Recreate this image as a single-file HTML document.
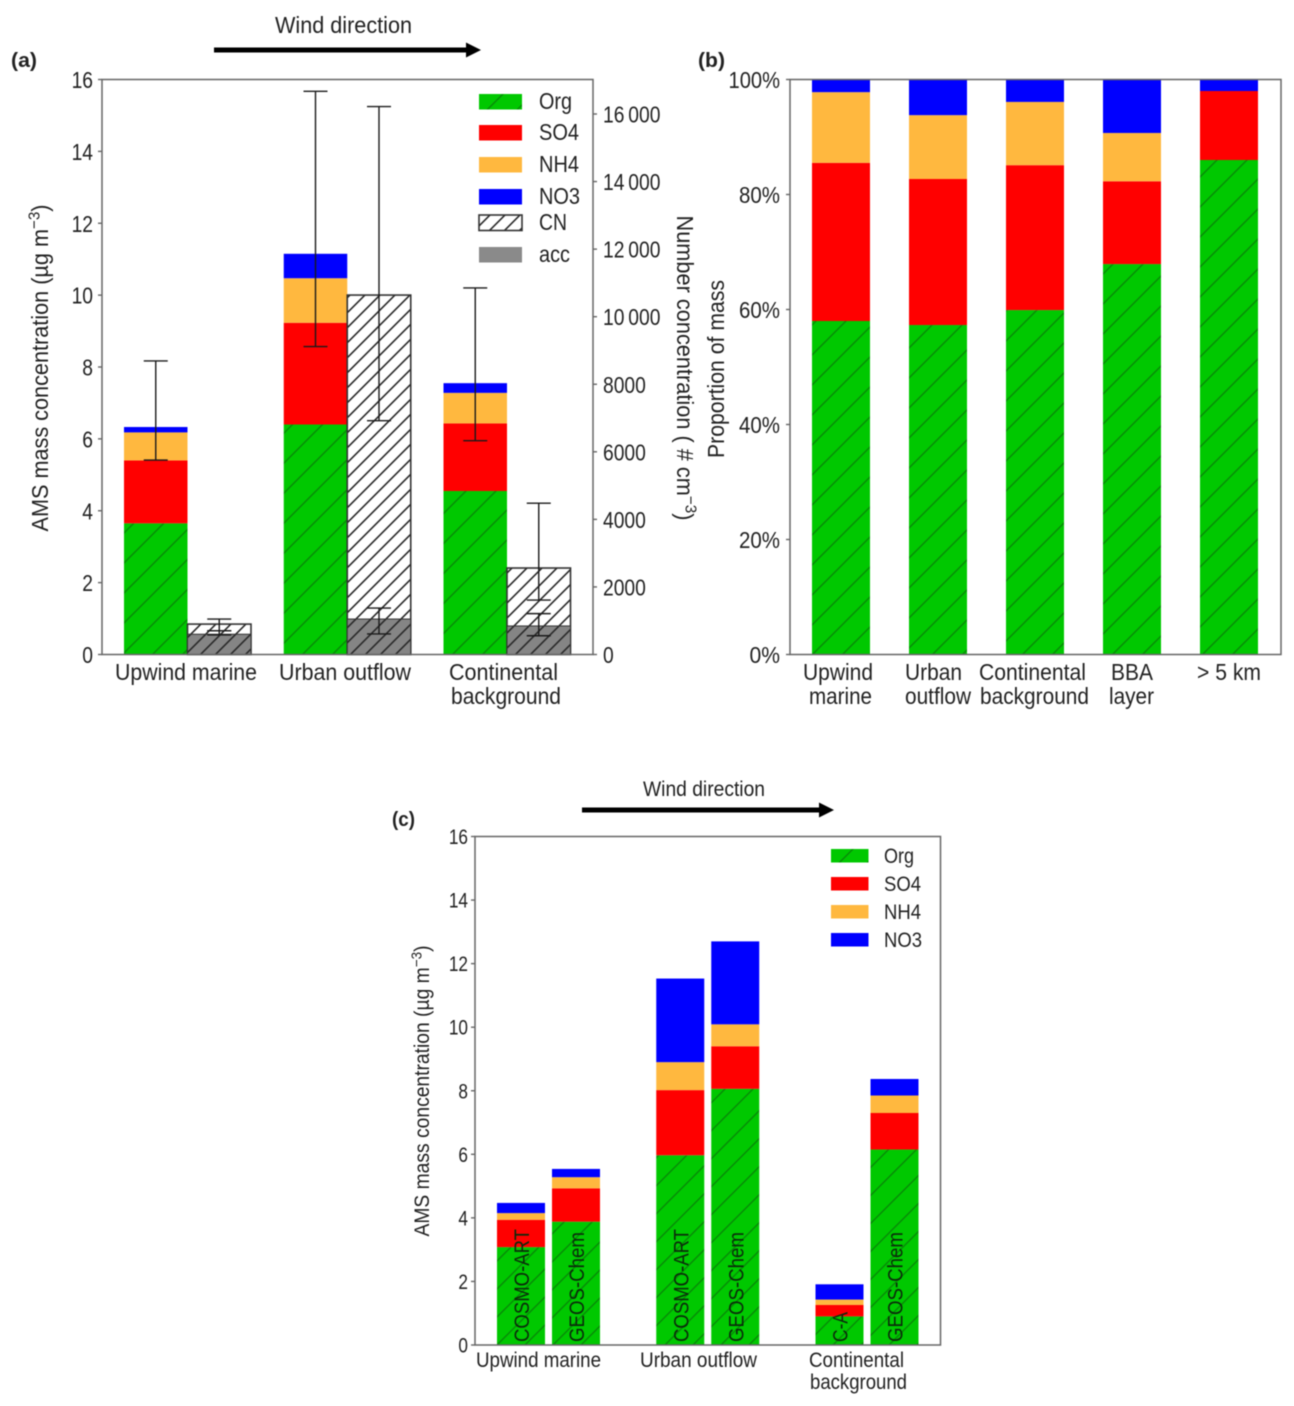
<!DOCTYPE html>
<html>
<head>
<meta charset="utf-8">
<title>AMS mass concentration charts</title>
<style>
html,body{margin:0;padding:0;background:#fff;width:1294px;height:1406px;overflow:hidden}
svg{display:block;filter:blur(0.4px)}
text{font-family:"Liberation Sans",Arial,sans-serif;fill:#222}
</style>
</head>
<body>
<svg id="chart" xmlns="http://www.w3.org/2000/svg" width="1294" height="1406" viewBox="0 0 1294 1406">
<defs>
<pattern id="hatch-org-a" patternUnits="userSpaceOnUse" width="30" height="30" patternTransform="translate(124 653)">
<rect width="30" height="30" fill="#00c800"/><path d="M-2 2L2 -2M0 30L30 0M28 32L32 28" stroke="#078a07" stroke-width="1.4"/>
</pattern>
<pattern id="hatch-org-c" patternUnits="userSpaceOnUse" width="28" height="28" patternTransform="translate(497 1345)">
<rect width="28" height="28" fill="#00c800"/><path d="M-2 2L2 -2M0 28L28 0M26 30L30 26" stroke="#078a07" stroke-width="1.4"/>
</pattern>
<pattern id="hatch-cn" patternUnits="userSpaceOnUse" width="15" height="15">
<rect width="15" height="15" fill="#fff"/><path d="M-2 2L2 -2M0 15L15 0M13 17L17 13" stroke="#2a2a2a" stroke-width="1.6"/>
</pattern>
<pattern id="hatch-acc" patternUnits="userSpaceOnUse" width="15" height="15">
<rect width="15" height="15" fill="#858585"/><path d="M-2 2L2 -2M0 15L15 0M13 17L17 13" stroke="#2a2a2a" stroke-width="1.6"/>
</pattern>
</defs>
</svg>
<script>
// ---- shared data ----
const speciesNames = ['Org', 'SO4', 'NH4', 'NO3'];

// ---- panel (a) data ----
const aCategories = ['Upwind marine', 'Urban outflow', 'Continental background'];
const aOrg = [3.65, 6.40, 4.55];
const aSO4 = [1.75, 2.83, 1.88];
const aNH4 = [0.78, 1.24, 0.85];
const aNO3 = [0.15, 0.68, 0.27];
const aErrLow = [5.41, 8.57, 5.95];
const aErrHigh = [8.17, 15.67, 10.2];
const aCN = [900, 10640, 2560];
const aCNLow = [700, 6920, 1610];
const aCNHigh = [1050, 16220, 4480];
const aAcc = [600, 1050, 845];
const aAccLow = [580, 610, 555];
const aAccHigh = [700, 1375, 1210];
const aLeftTicks = [0, 2, 4, 6, 8, 10, 12, 14, 16];
const aRightTicks = [0, 2000, 4000, 6000, 8000, 10000, 12000, 14000, 16000];
const aRightTickLabels = ['0', '2000', '4000', '6000', '8000', '10\u2009000', '12\u2009000', '14\u2009000', '16\u2009000'];

// ---- panel (b) data ----
const bCategories = ['Upwind marine', 'Urban outflow', 'Continental background', 'BBA layer', '> 5 km'];
const bOrg = [58.0, 57.3, 59.9, 67.9, 86.0];
const bSO4 = [27.5, 25.4, 25.2, 14.4, 12.0];
const bNH4 = [12.3, 11.1, 11.0, 8.4, 0];
const bNO3 = [2.2, 6.2, 3.9, 9.3, 2.0];
const bTicks = [0, 20, 40, 60, 80, 100];

// ---- panel (c) data ----
const cCategories = ['Upwind marine', 'Urban outflow', 'Continental background'];
const cModels = ['COSMO-ART', 'GEOS-Chem', 'COSMO-ART', 'GEOS-Chem', 'C-A', 'GEOS-Chem'];
const cOrg = [3.08, 3.88, 5.97, 8.06, 0.90, 6.15];
const cSO4 = [0.86, 1.05, 2.05, 1.34, 0.36, 1.15];
const cNH4 = [0.21, 0.35, 0.88, 0.69, 0.17, 0.55];
const cNO3 = [0.32, 0.26, 2.63, 2.61, 0.48, 0.52];
const cTicks = [0, 2, 4, 6, 8, 10, 12, 14, 16];

// ---- axis functions ----
const yA = v => 654.5 - v * 575 / 16;
const yARight = v => 654.5 - v * 540.5 / 16000;
const xAGroup = i => 187.5 + i * 159.75;
const yB = v => 654.5 - v * 5.75;
const xB = i => 841 + i * 97;
const yC = v => 1345 - v * 508.5 / 16;
const xCBar = i => 548.5 + Math.floor(i / 2) * 159.25 + (i % 2 === 0 ? -27.5 : 27.5);

const svg = document.getElementById('chart');
const NS = 'http://www.w3.org/2000/svg';
const colors = ['url(#hatch-org-a)', '#ff0000', '#ffb83f', '#0000ff'];
const colorsC = ['url(#hatch-org-c)', '#ff0000', '#ffb83f', '#0000ff'];

function make(tag, name, attrs) {
  const el = document.createElementNS(NS, tag);
  
  
  for (const k in attrs) el.setAttribute(k, attrs[k]);
  svg.appendChild(el);
  return el;
}
function rect(name, x0, x1, y0, y1, fill, extra) {
  return make('rect', name, Object.assign({x: x0, y: Math.min(y0, y1), width: x1 - x0, height: Math.abs(y1 - y0), fill: fill}, extra || {}));
}
function line(name, x1, y1, x2, y2, stroke, w) {
  return make('line', name, {x1: x1, y1: y1, x2: x2, y2: y2, stroke: stroke || '#666', 'stroke-width': w || 1.4});
}
function label(name, x, y, str, size, anchor, width, extra) {
  const el = make('text', name, Object.assign({x: x, y: y, 'font-size': size, 'text-anchor': anchor || 'start'}, extra || {}));
  el.textContent = str;
  const w = width || el.getComputedTextLength() * 0.82;
  el.setAttribute('textLength', w);
  el.setAttribute('lengthAdjust', 'spacingAndGlyphs');
  return el;
}
function superTitle(name, x, y, rot, before, sup, after, size, width) {
  const el = make('text', name, {x: x, y: y, 'font-size': size, 'text-anchor': 'middle', transform: 'rotate(' + rot + ' ' + x + ' ' + y + ')', textLength: width, lengthAdjust: 'spacingAndGlyphs'});
  const t1 = document.createElementNS(NS, 'tspan'); t1.textContent = before;
  const t2 = document.createElementNS(NS, 'tspan'); t2.textContent = sup;
  t2.setAttribute('dy', -size * 0.36); t2.setAttribute('font-size', size * 0.7);
  const t3 = document.createElementNS(NS, 'tspan'); t3.textContent = after;
  t3.setAttribute('dy', size * 0.36);
  el.appendChild(t1); el.appendChild(t2); el.appendChild(t3);
  return el;
}
function stack(prefix, x0, x1, yFn, parts, palette) {
  let base = 0;
  parts.forEach((v, s) => {
    rect(prefix + '-' + speciesNames[s].toLowerCase(), x0, x1, yFn(base), yFn(base + v), palette[s]);
    base += v;
  });
}
function errorBar(name, x, yLow, yHigh, capHalf) {
  line(name + '-stem', x, yLow, x, yHigh, '#1a1a1a', 1.4);
  line(name + '-cap-low', x - capHalf, yLow, x + capHalf, yLow, '#1a1a1a', 1.4);
  line(name + '-cap-high', x - capHalf, yHigh, x + capHalf, yHigh, '#1a1a1a', 1.4);
}
function arrow(name, x0, x1, y) {
  make('path', name, {d: 'M' + x0 + ' ' + (y - 2.5) + 'H' + (x1 - 15) + 'V' + (y - 7.5) + 'L' + x1 + ' ' + y + 'L' + (x1 - 15) + ' ' + (y + 7.5) + 'V' + (y + 2.5) + 'H' + x0 + 'Z', fill: '#000'});
}
function frame(name, x0, x1, y0, y1) {
  make('rect', name, {x: x0, y: y0, width: x1 - x0, height: y1 - y0, fill: 'none', stroke: '#666', 'stroke-width': 1.5});
}

// ---- panel (a) ----
label('panel-a-label', 11, 67, '(a)', 20, 'start', 26, {'font-weight': 'bold'});
label('wind-direction-label-a', 343.5, 33, 'Wind direction', 23, 'middle', 137);
arrow('wind-direction-arrow-a', 214, 481, 50);
aCategories.forEach((c, i) => {
  const cx = xAGroup(i);
  stack('bar-a-' + i, cx - 63.5, cx, yA, [aOrg[i], aSO4[i], aNH4[i], aNO3[i]], colors);
  rect('bar-a-cn-' + i, cx, cx + 63.5, yARight(0), yARight(aCN[i]), 'url(#hatch-cn)', {stroke: '#333', 'stroke-width': 1.6});
  rect('bar-a-acc-' + i, cx, cx + 63.5, yARight(0), yARight(aAcc[i]), 'url(#hatch-acc)', {stroke: '#333', 'stroke-width': 1});
});
aCategories.forEach((c, i) => {
  const cx = xAGroup(i);
  errorBar('error-a-mass-' + i, cx - 31.75, yA(aErrLow[i]), yA(aErrHigh[i]), 12);
  errorBar('error-a-cn-' + i, cx + 31.75, yARight(aCNLow[i]), yARight(aCNHigh[i]), 12);
  errorBar('error-a-acc-' + i, cx + 31.75, yARight(aAccLow[i]), yARight(aAccHigh[i]), 12);
});
frame('axes-a-frame', 102, 593, 79.5, 654.5);
aLeftTicks.forEach(v => {
  line('y-tick-a-' + v, 98, yA(v), 102, yA(v));
  label('y-tick-label-a-' + v, 93, yA(v) + 8.5, String(v), 23.5, 'end');
});
aRightTicks.forEach((v, i) => {
  line('y2-tick-a-' + v, 593, yARight(v), 597, yARight(v));
  label('y2-tick-label-a-' + v, 603, yARight(v) + 8.5, aRightTickLabels[i], 23.5, 'start');
});
superTitle('y-axis-title-a', 48, 368, -90, 'AMS mass concentration (\u00b5g m', '\u22123', ')', 23, 327);
superTitle('y2-axis-title-a', 677, 368, 90, 'Number concentration ( # cm', '\u22123', ')', 23, 305);
label('x-label-a-upwind', 186, 680, 'Upwind marine', 23, 'middle', 142);
label('x-label-a-urban', 345, 680, 'Urban outflow', 23, 'middle', 132);
label('x-label-a-continental', 503.5, 680, 'Continental', 23, 'middle', 109);
label('x-label-a-background', 506, 704, 'background', 23, 'middle', 110);
const aLegendNames = ['Org', 'SO4', 'NH4', 'NO3', 'CN', 'acc'];
const aLegendWidths = [33, 40, 40, 41, 28, 31];
const aLegendFills = ['url(#hatch-org-a)', '#ff0000', '#ffb83f', '#0000ff', 'url(#hatch-cn)', '#8a8a8a'];
[94, 125, 157, 189, 215, 247].forEach((top, i) => {
  rect('legend-a-swatch-' + aLegendNames[i].toLowerCase(), 479, 522, top, top + 15.5, aLegendFills[i], i === 4 ? {stroke: '#333', 'stroke-width': 1.6} : {});
  label('legend-a-label-' + aLegendNames[i].toLowerCase(), 539, top + 15, aLegendNames[i], 23, 'start', aLegendWidths[i]);
});

// ---- panel (b) ----
label('panel-b-label', 698, 67, '(b)', 20, 'start', 27, {'font-weight': 'bold'});
bCategories.forEach((c, i) => {
  const cx = xB(i);
  stack('bar-b-' + i, cx - 29, cx + 29, yB, [bOrg[i], bSO4[i], bNH4[i], bNO3[i]], colors);
});
frame('axes-b-frame', 790, 1281, 79.5, 654.5);
bTicks.forEach(v => {
  line('y-tick-b-' + v, 786, yB(v), 790, yB(v));
  label('y-tick-label-b-' + v, 780, yB(v) + 8.5, v + '%', 23.5, 'end', String(v).length * 10.5 + 20);
});
label('y-axis-title-b', 724, 369, 'Proportion of mass', 23, 'middle', 178, {transform: 'rotate(-90 724 369)'});
label('x-label-b-upwind', 838, 680, 'Upwind', 23, 'middle', 70);
label('x-label-b-marine', 840.5, 704, 'marine', 23, 'middle', 63);
label('x-label-b-urban', 933.5, 680, 'Urban', 23, 'middle', 57);
label('x-label-b-outflow', 938, 704, 'outflow', 23, 'middle', 66);
label('x-label-b-continental', 1032.5, 680, 'Continental', 23, 'middle', 107);
label('x-label-b-background', 1034.5, 704, 'background', 23, 'middle', 109);
label('x-label-b-bba', 1132, 680, 'BBA', 23, 'middle', 42);
label('x-label-b-layer', 1131.5, 704, 'layer', 23, 'middle', 45);
label('x-label-b-5km', 1229, 680, '> 5 km', 23, 'middle', 64);

// ---- panel (c) ----
label('panel-c-label', 392, 826, '(c)', 20, 'start', 23, {'font-weight': 'bold'});
label('wind-direction-label-c', 704, 796, 'Wind direction', 21, 'middle', 122);
arrow('wind-direction-arrow-c', 582, 834, 810);
cModels.forEach((m, i) => {
  const cx = xCBar(i);
  stack('bar-c-' + i, cx - 24, cx + 24, yC, [cOrg[i], cSO4[i], cNH4[i], cNO3[i]], colorsC);
});
cModels.forEach((m, i) => {
  const cx = xCBar(i);
  label('model-label-' + i, cx + 8, 1342, m, 21, 'start', m === 'C-A' ? 30 : (m === 'COSMO-ART' ? 113 : 110), {transform: 'rotate(-90 ' + (cx + 8) + ' 1342)', style: 'fill:#0b2a0b'});
});
frame('axes-c-frame', 475, 940.5, 836.5, 1345);
cTicks.forEach(v => {
  line('y-tick-c-' + v, 471, yC(v), 475, yC(v));
  label('y-tick-label-c-' + v, 468, yC(v) + 7.5, String(v), 21, 'end');
});
superTitle('y-axis-title-c', 429, 1091, -90, 'AMS mass concentration (\u00b5g m', '\u22123', ')', 21, 291);
label('x-label-c-upwind', 538.5, 1367, 'Upwind marine', 21, 'middle', 125);
label('x-label-c-urban', 698.5, 1367, 'Urban outflow', 21, 'middle', 117);
label('x-label-c-continental', 856.5, 1367, 'Continental', 21, 'middle', 95);
label('x-label-c-background', 858.5, 1389, 'background', 21, 'middle', 97);
const cLegendWidths = [30, 37, 37, 38];
[849, 877, 905, 933].forEach((top, i) => {
  rect('legend-c-swatch-' + speciesNames[i].toLowerCase(), 831, 868.5, top, top + 13.5, colorsC[i]);
  label('legend-c-label-' + speciesNames[i].toLowerCase(), 884, top + 14, speciesNames[i], 21, 'start', cLegendWidths[i]);
});
</script>
</body>
</html>
